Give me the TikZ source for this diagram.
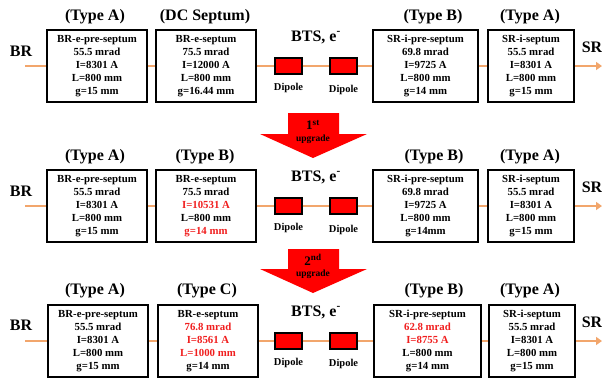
\documentclass[tikz,border=0pt]{standalone}
\usepackage{fontspec}
\setmainfont{Liberation Serif}
\usetikzlibrary{arrows.meta}
\definecolor{beamline}{RGB}{242,166,108}
\definecolor{upred}{RGB}{255,0,0}
\definecolor{newval}{RGB}{240,30,30}
\tikzset{
  magnet/.style={draw, line width=1.5pt, minimum width=#1, minimum height=72pt,
    align=center, inner sep=0pt, font=\fontsize{10.8}{13}\selectfont\bfseries},
  typelabel/.style={font=\fontsize{16}{18}\selectfont\bfseries, inner sep=0pt},
  ringlabel/.style={font=\fontsize{16}{18}\selectfont\bfseries, inner sep=0pt},
  beam/.style={draw=beamline, line width=2.5pt},
  beamout/.style={beam, -{Triangle[length=6pt,width=8pt]}},
  dipole/.style={draw, fill=red, line width=1.4pt, minimum width=27pt,
    minimum height=16pt, inner sep=0pt},
  dipolelabel/.style={font=\fontsize{10.5}{12}\selectfont\bfseries, inner sep=0pt},
  upgradearrow/.style={fill=upred, draw=none},
  upnum/.style={font=\fontsize{13}{14}\selectfont\bfseries, inner sep=0pt},
  uptext/.style={font=\fontsize{9.5}{11}\selectfont\bfseries, inner sep=0pt},
  changed/.style={text=newval}
}
\begin{document}
\begin{tikzpicture}[x=1pt, y=-1pt]
\useasboundingbox (0,0) rectangle (602,378);

% ---------- present layout (beam axis y = 66) ----------
\node[ringlabel] (br1) at (21,51) {BR};
\node[ringlabel] (sr1) at (592,47) {SR};
\node[typelabel] (t11) at (95,17) {(Type A)};
\node[typelabel] (t12) at (205,17) {(DC Septum)};
\node[typelabel] (t13) at (433,17) {(Type B)};
\node[typelabel] (t14) at (530,17) {(Type A)};
\node[typelabel] (bts1) at (316,37) {BTS, e\textsuperscript{-}};
\node[magnet=100pt] (a1) at (97,66) {BR-e-pre-septum\\55.5 mrad\\I=8301 A\\L=800 mm\\g=15 mm};
\node[magnet=100pt] (b1) at (206,66) {BR-e-septum\\75.5 mrad\\I=12000 A\\L=800 mm\\g=16.44 mm};
\node[dipole] (p1) at (288.5,66) {};
\node[dipole] (q1) at (343.5,66) {};
\node[magnet=105pt] (c1) at (425.5,66) {SR-i-pre-septum\\69.8 mrad\\I=9725 A\\L=800 mm\\g=14 mm};
\node[magnet=86pt] (d1) at (531,66) {SR-i-septum\\55.5 mrad\\I=8301 A\\L=800 mm\\g=15 mm};
\node[dipolelabel] (pl1) at (288.5,88) {Dipole};
\node[dipolelabel] (ql1) at (343.5,90) {Dipole};
\coordinate (i1) at (25,66);
\coordinate (o1) at (602,66);
\draw[beam] (i1) -- (a1.west);
\draw[beam] (a1.east) -- (b1.west);
\draw[beam] (b1.east) -- (p1.west);
\draw[beam] (p1.east) -- (q1.west);
\draw[beam] (q1.east) -- (c1.west);
\draw[beam] (c1.east) -- (d1.west);
\draw[beamout] (d1.east) -- (o1);

% ---------- first upgrade ----------
\fill[upgradearrow] (288,113) -- (339,113) -- (339,134) -- (367,134) -- (313,158)
  -- (260,134) -- (288,134) -- cycle;
\node[upnum] (u1) at (313,125) {1\textsuperscript{st}};
\node[uptext] (v1) at (313,139) {upgrade};

% ---------- layout after first upgrade (beam axis y = 206) ----------
\node[ringlabel] (br2) at (21,191) {BR};
\node[ringlabel] (sr2) at (592,187) {SR};
\node[typelabel] (t21) at (95,157) {(Type A)};
\node[typelabel] (t22) at (205,157) {(Type B)};
\node[typelabel] (t23) at (434,157) {(Type B)};
\node[typelabel] (t24) at (530,157) {(Type A)};
\node[typelabel] (bts2) at (316,177) {BTS, e\textsuperscript{-}};
\node[magnet=100pt] (a2) at (97,206) {BR-e-pre-septum\\55.5 mrad\\I=8301 A\\L=800 mm\\g=15 mm};
\node[magnet=100pt] (b2) at (206,206) {BR-e-septum\\75.5 mrad\\{\color{newval}I=10531 A}\\L=800 mm\\{\color{newval}g=14 mm}};
\node[dipole] (p2) at (288.5,206) {};
\node[dipole] (q2) at (343.5,206) {};
\node[magnet=105pt] (c2) at (425.5,206) {SR-i-pre-septum\\69.8 mrad\\I=9725 A\\L=800 mm\\g=14mm};
\node[magnet=86pt] (d2) at (531,206) {SR-i-septum\\55.5 mrad\\I=8301 A\\L=800 mm\\g=15 mm};
\node[dipolelabel] (pl2) at (288.5,228) {Dipole};
\node[dipolelabel] (ql2) at (343.5,230) {Dipole};
\coordinate (i2) at (25,206);
\coordinate (o2) at (602,206);
\draw[beam] (i2) -- (a2.west);
\draw[beam] (a2.east) -- (b2.west);
\draw[beam] (b2.east) -- (p2.west);
\draw[beam] (p2.east) -- (q2.west);
\draw[beam] (q2.east) -- (c2.west);
\draw[beam] (c2.east) -- (d2.west);
\draw[beamout] (d2.east) -- (o2);

% ---------- second upgrade ----------
\fill[upgradearrow] (288,249) -- (339,249) -- (339,269) -- (367,269) -- (313,293)
  -- (260,269) -- (288,269) -- cycle;
\node[upnum] (u2) at (313,260) {2\textsuperscript{nd}};
\node[uptext] (v2) at (313,274) {upgrade};

% ---------- layout after second upgrade (beam axis y = 341) ----------
\node[ringlabel] (br3) at (21,325) {BR};
\node[ringlabel] (sr3) at (592,322) {SR};
\node[typelabel] (t31) at (95,291) {(Type A)};
\node[typelabel] (t32) at (207,291) {(Type C)};
\node[typelabel] (t33) at (434,291) {(Type B)};
\node[typelabel] (t34) at (530,291) {(Type A)};
\node[typelabel] (bts3) at (316,312) {BTS, e\textsuperscript{-}};
\node[magnet=100pt] (a3) at (98,341) {BR-e-pre-septum\\55.5 mrad\\I=8301 A\\L=800 mm\\g=15 mm};
\node[magnet=100pt] (b3) at (208,341) {BR-e-septum\\{\color{newval}76.8 mrad}\\{\color{newval}I=8561 A}\\{\color{newval}L=1000 mm}\\g=14 mm};
\node[dipole] (p3) at (288.5,341) {};
\node[dipole] (q3) at (343.5,341) {};
\node[magnet=107pt] (c3) at (427.5,341) {SR-i-pre-septum\\{\color{newval}62.8 mrad}\\{\color{newval}I=8755 A}\\L=800 mm\\g=14 mm};
\node[magnet=86pt] (d3) at (532,341) {SR-i-septum\\55.5 mrad\\I=8301 A\\L=800 mm\\g=15 mm};
\node[dipolelabel] (pl3) at (288.5,363) {Dipole};
\node[dipolelabel] (ql3) at (343.5,364) {Dipole};
\coordinate (i3) at (25,341);
\coordinate (o3) at (602,341);
\draw[beam] (i3) -- (a3.west);
\draw[beam] (a3.east) -- (b3.west);
\draw[beam] (b3.east) -- (p3.west);
\draw[beam] (p3.east) -- (q3.west);
\draw[beam] (q3.east) -- (c3.west);
\draw[beam] (c3.east) -- (d3.west);
\draw[beamout] (d3.east) -- (o3);
\end{tikzpicture}
\end{document}
